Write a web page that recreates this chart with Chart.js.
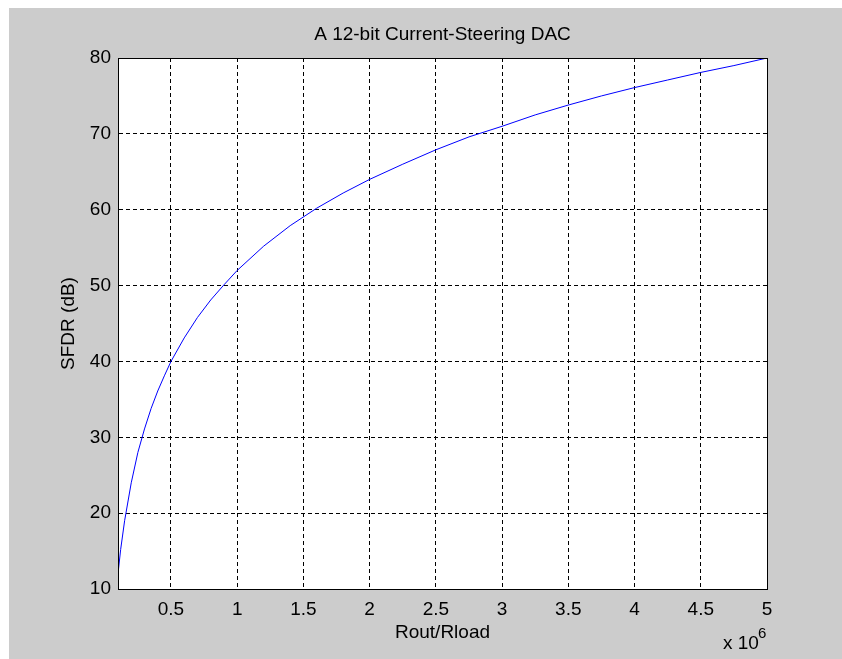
<!DOCTYPE html>
<html>
<head>
<meta charset="utf-8">
<title>A 12-bit Current-Steering DAC</title>
<script src="https://cdn.jsdelivr.net/npm/chart.js@4.4.1/dist/chart.umd.min.js"></script>
<style>
  body { margin: 0; background: #ffffff; }
  #frame { position: absolute; left: 9px; top: 8px; width: 833px; height: 651px; background: #cccccc; }
  canvas { display: block; }
</style>
</head>
<body>
<div id="frame"><canvas id="myChart" width="833" height="651"></canvas></div>
<script>
// Rout/Rload, in units of 10^6
var rRatio = [0.1, 0.12, 0.15, 0.2, 0.25, 0.3, 0.35, 0.4, 0.45, 0.5,
              0.6, 0.7, 0.8, 0.9, 1.0, 1.2, 1.4, 1.6, 1.8, 2.0,
              2.25, 2.5, 2.75, 3.0, 3.25, 3.5, 3.75, 4.0, 4.25, 4.5, 4.75, 5.0];
// SFDR in dB
var sfdr = [12, 15.2, 19, 24, 28, 31.1, 33.8, 36.1, 38.1, 40,
            43.1, 45.8, 48.1, 50.1, 52, 55.2, 57.9, 60.2, 62.2, 64,
            66, 67.9, 69.6, 71, 72.5, 73.8, 75, 76.1, 77.1, 78.1, 79, 80];
var xTicks = [0.5, 1, 1.5, 2, 2.5, 3, 3.5, 4, 4.5, 5];
var yTicks = [10, 20, 30, 40, 50, 60, 70, 80];

var FONT = "'Liberation Sans', Arial, Helvetica, sans-serif";

var points = rRatio.map(function (x, i) { return { x: x, y: sfdr[i] }; });

// white plot area, solid box and the "x 10^6" exponent, MATLAB style
var matlabBox = {
    id: 'matlabBox',
    beforeDraw: function (chart) {
        var a = chart.chartArea, ctx = chart.ctx;
        ctx.save();
        ctx.fillStyle = '#ffffff';
        ctx.fillRect(a.left, a.top, a.right - a.left, a.bottom - a.top);
        ctx.restore();
    },
    afterDraw: function (chart) {
        var a = chart.chartArea, ctx = chart.ctx;
        ctx.save();
        ctx.strokeStyle = '#000000';
        ctx.lineWidth = 1;
        ctx.setLineDash([]);
        ctx.strokeRect(Math.round(a.left) + 0.5, Math.round(a.top) + 0.5,
                       Math.round(a.right - a.left), Math.round(a.bottom - a.top));
        ctx.fillStyle = '#000000';
        ctx.textBaseline = 'alphabetic';
        ctx.textAlign = 'left';
        ctx.font = '19px ' + FONT;
        ctx.fillText('x 10', 714, 641);
        ctx.font = '15px ' + FONT;
        ctx.fillText('6', 749, 630);
        ctx.restore();
    }
};

var ctx = document.getElementById('myChart').getContext('2d');
var myChart = new Chart(ctx, {
    type: 'line',
    data: {
        datasets: [{
            label: 'SFDR',
            data: points,
            borderColor: '#0000ff',
            borderWidth: 1,
            pointRadius: 0,
            tension: 0,
            fill: false
        }]
    },
    options: {
        responsive: false,
        animation: false,
        layout: { padding: { left: 0, right: 75, top: 0, bottom: 0 } },
        plugins: {
            legend: { display: false },
            tooltip: { enabled: false },
            title: {
                display: true,
                fullSize: false,
                text: 'A 12-bit Current-Steering DAC',
                color: '#000000',
                font: { family: FONT, size: 19, weight: 'normal' },
                padding: { top: 15.6, bottom: 11.6 }
            }
        },
        scales: {
            x: {
                type: 'linear',
                min: 0.1,
                max: 5,
                afterBuildTicks: function (scale) {
                    scale.ticks = xTicks.map(function (v) { return { value: v }; });
                },
                afterFit: function (scale) { scale.height = 70; },
                grid: {
                    color: '#000000',
                    lineWidth: 1,
                    drawTicks: false
                },
                border: { display: true, color: '#000000', dash: [4, 3] },
                ticks: {
                    color: '#000000',
                    padding: 9,
                    maxRotation: 0,
                    font: { family: FONT, size: 19 },
                    callback: function (v) { return String(v); }
                },
                title: {
                    display: true,
                    text: 'Rout/Rload',
                    color: '#000000',
                    font: { family: FONT, size: 19 },
                    padding: { top: 0, bottom: 15 }
                }
            },
            y: {
                min: 10,
                max: 80,
                afterBuildTicks: function (scale) {
                    scale.ticks = yTicks.map(function (v) { return { value: v }; });
                },
                afterFit: function (scale) { scale.width = 109; },
                grid: {
                    color: '#000000',
                    lineWidth: 1,
                    drawTicks: false
                },
                border: { display: true, color: '#000000', dash: [4, 3] },
                ticks: {
                    color: '#000000',
                    padding: 7,
                    font: { family: FONT, size: 19 }
                },
                title: {
                    display: true,
                    text: 'SFDR (dB)',
                    color: '#000000',
                    font: { family: FONT, size: 19 },
                    padding: { top: 48, bottom: 0 }
                }
            }
        }
    },
    plugins: [matlabBox]
});
</script>
</body>
</html>
